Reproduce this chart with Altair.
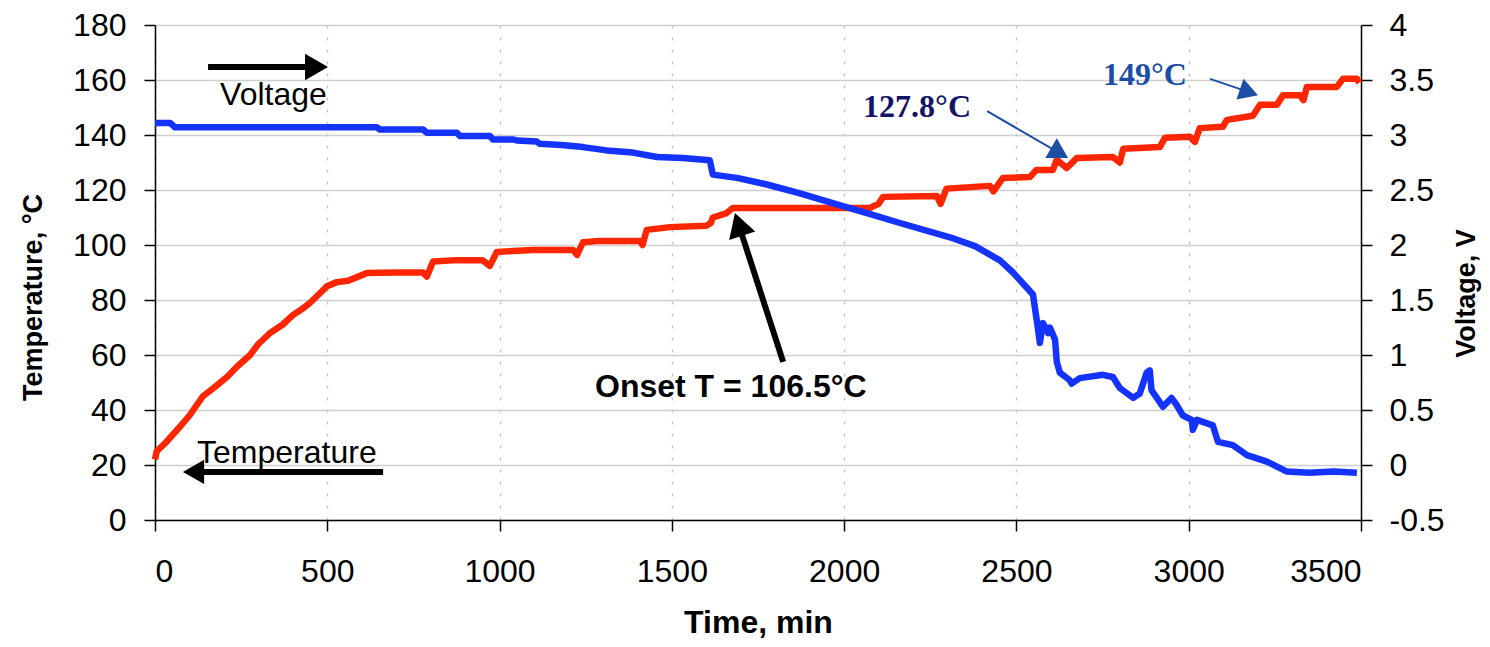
import math
import altair as alt
import pandas as pd

# ---------------- data ----------------
time_temp = [0, 5, 30, 73, 100, 139, 170, 209, 240, 276, 300, 334, 370, 400, 430, 450, 475, 499,
             528, 560, 590, 615, 700, 778, 789, 807, 876, 950, 972, 992, 1097, 1213, 1225, 1242,
             1291, 1407, 1415, 1427, 1494, 1600, 1613, 1619, 1659, 1677, 2075, 2100, 2113, 2269,
             2280, 2297, 2423, 2433, 2461, 2539, 2558, 2606, 2617, 2646, 2675, 2780, 2800, 2810,
             2916, 2931, 3003, 3018, 3032, 3099, 3111, 3186, 3207, 3256, 3274, 3323, 3333, 3343,
             3430, 3448, 3488, 3495]
temp_vals = [22, 25, 28, 34, 38, 45, 48, 52, 56, 60, 64, 68, 71, 74.5, 77, 79, 82, 85,
             86.5, 87, 88.5, 89.8, 90, 90, 88.5, 94, 94.5, 94.5, 92.4, 97.5, 98.2, 98.2, 96.4, 101,
             101.5, 101.5, 100, 105.5, 106.5, 107, 108, 110, 111.6, 113.5, 113.5, 115, 117.5, 117.8,
             115, 120.5, 121.5, 119.5, 124.4, 124.7, 127.3, 127.3, 131, 128, 131.6, 132, 130, 135,
             135.6, 139, 139.4, 137.5, 142.5, 143, 145.5, 147, 151, 151, 154.5, 154.5, 152.7, 157.5,
             157.5, 160.5, 160.5, 159]

time_volt = [0, 44, 58, 644, 653, 778, 789, 876, 885, 972, 981, 1039, 1050, 1108, 1117, 1180,
             1242, 1311, 1387, 1457, 1532, 1610, 1619, 1689, 1776, 1872, 1967, 2066, 2162, 2307,
             2380, 2452, 2490, 2519, 2548, 2563, 2568, 2577, 2592, 2597, 2612, 2617, 2626, 2655,
             2660, 2684, 2751, 2780, 2800, 2839, 2858, 2878, 2887, 2892, 2925, 2950, 2964, 2983,
             3009, 3012, 3024, 3070, 3085, 3128, 3169, 3227, 3285, 3350, 3420, 3488]
volt_vals = [3.11, 3.11, 3.07, 3.07, 3.05, 3.05, 3.02, 3.02, 2.99, 2.99, 2.96, 2.96, 2.95, 2.94,
             2.92, 2.91, 2.89, 2.86, 2.84, 2.80, 2.79, 2.77, 2.64, 2.61, 2.55, 2.47, 2.38, 2.29,
             2.20, 2.07, 1.99, 1.86, 1.75, 1.65, 1.55, 1.23, 1.11, 1.29, 1.20, 1.25, 1.14, 0.94,
             0.84, 0.77, 0.74, 0.79, 0.82, 0.80, 0.70, 0.61, 0.65, 0.84, 0.86, 0.68, 0.53, 0.61,
             0.55, 0.45, 0.41, 0.32, 0.41, 0.36, 0.21, 0.18, 0.09, 0.03, -0.06, -0.07, -0.06, -0.07]

x_ticks = [0, 500, 1000, 1500, 2000, 2500, 3000, 3500]
t_ticks = [0, 20, 40, 60, 80, 100, 120, 140, 160, 180]
v_ticks = [-0.5, 0, 0.5, 1, 1.5, 2, 2.5, 3, 3.5, 4]

# annotation texts (data coordinates: time, temperature)
txt_labels = ["Voltage", "Temperature", "Onset T = 106.5°C", "127.8°C", "149°C"]
txt_t = [189, 122, 1277, 2055, 2751]
txt_T = [151, 20.7, 44.8, 146.7, 158.2]
txt_style = ["sans", "sans", "sansbold", "serif", "serif"]
txt_color = ["#000000", "#000000", "#000000", "#141466", "#1c4ea6"]

# annotation arrows (tail -> tip, data coordinates)
arr_tail_t = [154, 662, 1823, 2415, 3062]
arr_tail_T = [164.7, 17.5, 57.5, 148.7, 160.4]
arr_tip_t = [502, 81, 1683, 2650, 3201]
arr_tip_T = [164.7, 17.5, 111.6, 131.6, 154.5]
arr_color = ["#000000", "#000000", "#000000", "#1c4ea6", "#1c4ea6"]
arr_width = [6, 6, 6, 2, 2]
arr_head = [700, 600, 750, 520, 480]

# ---------------- layout ----------------
W, H = 1206, 495
X_DOM = [0, 3500]
T_DOM = [0, 180]
V_DOM = [-0.5, 4]
px_x = W / (X_DOM[1] - X_DOM[0])
px_y = H / (T_DOM[1] - T_DOM[0])

RED = "#ff2600"
BLUE = "#1433ff"

temp_df = pd.DataFrame({"t": time_temp, "T": temp_vals})
volt_df = pd.DataFrame({"t": time_volt, "V": volt_vals})
txt_df = pd.DataFrame({"label": txt_labels, "t": txt_t, "T": txt_T,
                       "style": txt_style, "color": txt_color})

shaft_rows, head_rows = [], []
for i in range(len(arr_tail_t)):
    ux = (arr_tip_t[i] - arr_tail_t[i]) * px_x
    uy = -(arr_tip_T[i] - arr_tail_T[i]) * px_y
    n = math.hypot(ux, uy)
    ux, uy = ux / n, uy / n
    h = 0.433 * math.sqrt(arr_head[i])
    ct = arr_tip_t[i] - ux * h / px_x
    cT = arr_tip_T[i] + uy * h / px_y
    ang = math.degrees(math.atan2(ux, -uy)) % 360
    shaft_rows.append({"t": arr_tail_t[i], "T": arr_tail_T[i], "t2": ct, "T2": cT,
                       "color": arr_color[i], "w": arr_width[i]})
    head_rows.append({"t": ct, "T": cT, "angle": ang, "size": arr_head[i],
                      "color": arr_color[i]})
shaft_df = pd.DataFrame(shaft_rows)
head_df = pd.DataFrame(head_rows)

FONT = "Liberation Sans"

x_enc = alt.X("t:Q", scale=alt.Scale(domain=X_DOM, nice=False, zero=False),
              axis=alt.Axis(values=x_ticks, title="Time, min", labelExpr="'' + datum.value",
                            grid=True, gridDash=[3, 9], gridColor="#c4c4c4", gridWidth=1.5,
                            tickSize=11, labelPadding=25, titleY=112, titleX=603,
                            titleBaseline="alphabetic", titleFontSize=32))
y_enc = alt.Y("T:Q", scale=alt.Scale(domain=T_DOM, nice=False, zero=False),
              axis=alt.Axis(values=t_ticks, title="Temperature, °C", grid=True,
                            gridColor="#cfcfcf", gridWidth=1.5, tickSize=11, labelPadding=18,
                            titleX=-122, titleY=272, titleAngle=270, titleBaseline="middle",
                            titleFontSize=27))

red_line = alt.Chart(temp_df).mark_line(color=RED, strokeWidth=6.5, strokeJoin="round").encode(
    x=x_enc, y=y_enc)

shafts = alt.Chart(shaft_df).mark_rule(strokeCap="butt").encode(
    x=x_enc, y=y_enc, x2="t2:Q", y2="T2:Q",
    color=alt.Color("color:N", scale=None), strokeWidth=alt.StrokeWidth("w:Q", scale=None))

heads = alt.Chart(head_df).mark_point(shape="triangle-up", filled=True, opacity=1).encode(
    x=x_enc, y=y_enc,
    angle=alt.Angle("angle:Q", scale=None),
    size=alt.Size("size:Q", scale=None),
    color=alt.Color("color:N", scale=None))

txt_sans = alt.Chart(txt_df[txt_df["style"] == "sans"]).mark_text(
    font=FONT, fontSize=32, align="left", baseline="alphabetic").encode(
    x=x_enc, y=y_enc, text="label:N", color=alt.Color("color:N", scale=None))
txt_bold = alt.Chart(txt_df[txt_df["style"] == "sansbold"]).mark_text(
    font=FONT, fontSize=32, fontWeight="bold", align="left", baseline="alphabetic").encode(
    x=x_enc, y=y_enc, text="label:N", color=alt.Color("color:N", scale=None))
txt_serif = alt.Chart(txt_df[txt_df["style"] == "serif"]).mark_text(
    font="Liberation Serif", fontSize=32, fontWeight="bold", align="left",
    baseline="alphabetic").encode(
    x=x_enc, y=y_enc, text="label:N", color=alt.Color("color:N", scale=None))

temp_group = alt.layer(red_line, shafts, heads, txt_sans, txt_bold, txt_serif)

blue_line = alt.Chart(volt_df).mark_line(color=BLUE, strokeWidth=6.5, strokeJoin="round").encode(
    x=x_enc,
    y=alt.Y("V:Q", scale=alt.Scale(domain=V_DOM, nice=False, zero=False),
            axis=alt.Axis(orient="right", values=v_ticks, title="Voltage, V",
                          labelExpr="'' + datum.value", grid=False, tickSize=11,
                          labelPadding=17, titleX=105, titleY=268, titleAngle=270,
                          titleBaseline="middle", titleFontSize=27)))

chart = alt.layer(temp_group, blue_line).resolve_scale(y="independent").properties(
    width=W, height=H,
    autosize=alt.AutoSizeParams(type="none"),
    padding={"left": 147, "top": 17, "right": 121, "bottom": 119},
).configure_view(stroke=None).configure_axis(
    domainColor="black", domainWidth=1.5, tickColor="black", tickWidth=1.5,
    labelFont=FONT, labelFontSize=32, labelColor="black",
    titleFont=FONT, titleFontWeight="bold", titleColor="black",
)

chart.save("out.html", embed_options={"renderer": "svg", "actions": False})
